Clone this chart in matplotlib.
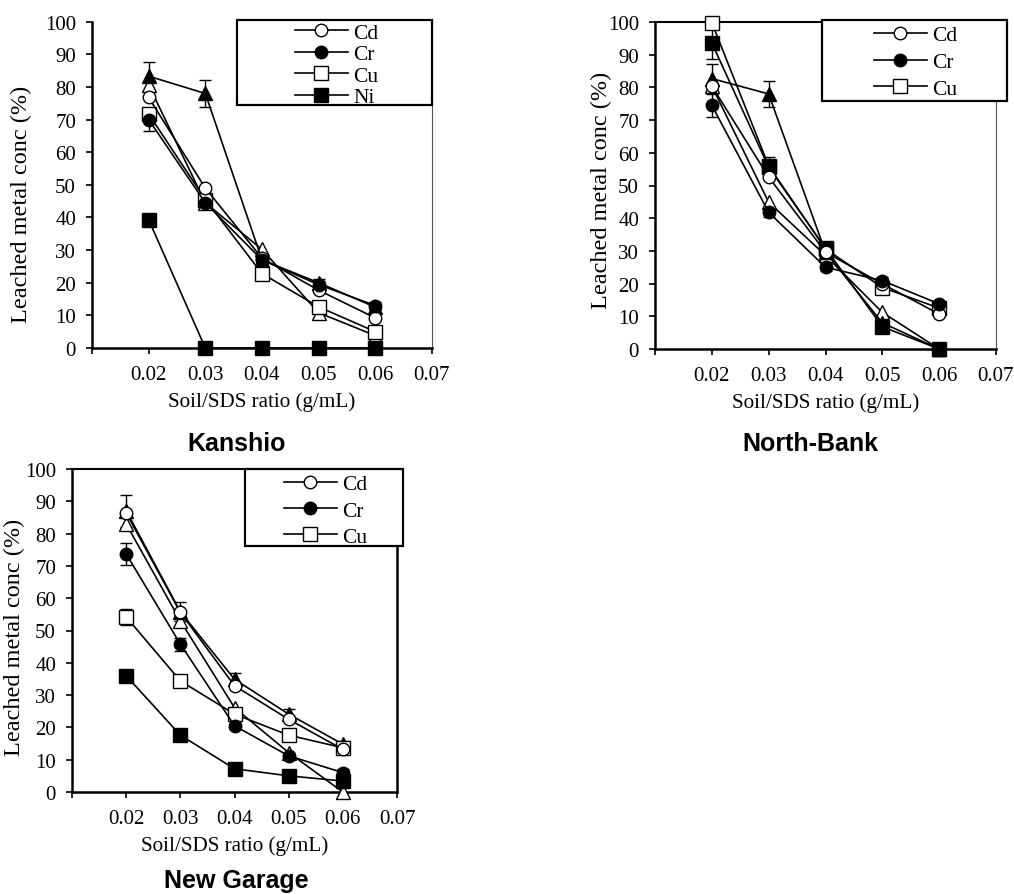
import numpy as np
import matplotlib
matplotlib.use('Agg')
import matplotlib.pyplot as plt
from matplotlib.lines import Line2D
from matplotlib.patches import Rectangle

plt.rcParams['font.family'] = 'Liberation Serif'
plt.rcParams['font.size'] = 15

# x values: soil/SDS ratio (g/mL)
ratio = [0.02, 0.03, 0.04, 0.05, 0.06]

# Kanshio
k_cd = [76.8, 49.0, 27.5, 17.7, 9.2]
k_cr = [70.0, 44.5, 27.0, 19.4, 13.0]
k_cu = [71.7, 45.5, 22.8, 12.6, 5.0]
k_ni = [39.3, 0, 0, 0, 0]
k_to = [80.6, 44.5, 30.2, 10.8, 3.8]
k_tf = [83.3, 78.0, 27.0, 20.0, 12.5]
k_err = {'cr': [3.5, 1.5, 1, 1, 1], 'cu': [2, 1.5, 1, 1, 1], 'tf': [4.3, 4.0, 1, 1, 1]}

# North-Bank
n_cd = [80.4, 52.6, 29.6, 19.9, 10.7]
n_cr = [74.5, 41.8, 25.0, 20.9, 13.8]
n_cu = [99.8, 56.0, 30.6, 18.8, 12.5]
n_ni = [93.6, 55.6, 30.8, 6.8, 0]
n_to = [80.4, 44.9, 28.6, 11.2, 0]
n_tf = [82.7, 78.0, 29.6, 8.0, 0]
n_err = {'cr': [3.5, 1.5, 1, 1, 1], 'ni': [5, 3, 1, 1, 0], 'tf': [4.5, 4.0, 1, 1, 0]}

# New Garage
g_cd = [86.4, 55.6, 32.9, 22.5, 13.2]
g_cr = [73.7, 45.8, 20.5, 11.2, 6.0]
g_cu = [54.2, 34.4, 24.1, 17.6, 13.7]
g_ni = [36.0, 17.6, 7.2, 5.0, 3.4]
g_to = [83.0, 53.0, 26.1, 12.2, 0]
g_tf = [87.1, 55.8, 34.9, 24.1, 14.8]
g_err = {'cr': [3.5, 2, 1, 1, 1], 'cu': [2.5, 1, 1, 1, 1], 'tf': [5, 3, 2, 1.5, 1]}

styles = {
    'cd': dict(marker='o', mfc='white', ms=9),
    'cr': dict(marker='o', mfc='black', ms=9),
    'cu': dict(marker='s', mfc='white', ms=9.5),
    'ni': dict(marker='s', mfc='black', ms=10),
    'to': dict(marker='^', mfc='white', ms=10.5),
    'tf': dict(marker='^', mfc='black', ms=10.5),
}
names = {'cd': 'Cd', 'cr': 'Cr', 'cu': 'Cu', 'ni': 'Ni'}

fig = plt.figure(figsize=(10.14, 8.95), dpi=100)


def panel(rect, series, errs, legend_keys, box, leg_anchor, spacing, ylab_xy,
          top_spine, right_lw, right_col, title, title_x, title_y):
    ax = fig.add_axes(rect)
    for key in ['to', 'tf', 'cu', 'ni', 'cd', 'cr']:
        ax.plot(ratio, series[key], color='black', lw=1.2, mec='black', mew=1.0,
                clip_on=False, zorder=3, **styles[key])
    for key, e in errs.items():
        ax.errorbar(ratio, series[key], yerr=e, fmt='none', ecolor='black',
                    elinewidth=1.0, capsize=4, capthick=1.0, zorder=2, clip_on=False)
    ax.set_xlim(0.01, 0.07)
    ax.set_ylim(0, 100)
    ax.set_xticks([0.01, 0.02, 0.03, 0.04, 0.05, 0.06, 0.07])
    ax.set_xticklabels(['', '0.02', '0.03', '0.04', '0.05', '0.06', '0.07'])
    ax.set_yticks(range(0, 101, 10))
    ax.tick_params(direction='out', length=4.5, width=1.2, labelsize=15)
    ax.tick_params(axis='y', pad=7)
    ax.tick_params(axis='x', pad=8)
    ax.set_xlabel('Soil/SDS ratio (g/mL)', fontsize=15.2, labelpad=5)
    ax.set_ylabel('Leached metal conc (%)', fontsize=17.5)
    ax.yaxis.set_label_coords(*ylab_xy)
    for s in ['left', 'bottom']:
        ax.spines[s].set_linewidth(1.8)
    ax.spines['top'].set_visible(top_spine)
    ax.spines['top'].set_linewidth(1.5)
    ax.spines['right'].set_linewidth(right_lw)
    ax.spines['right'].set_color(right_col)

    # legend box
    ax.add_patch(Rectangle((box[0], box[1]), box[2] - box[0], box[3] - box[1],
                           transform=ax.transAxes, fill=True, facecolor='white',
                           edgecolor='black', lw=1.6, clip_on=False, zorder=5))
    handles = [Line2D([], [], color='black', lw=1.2, mec='black', **styles[k])
               for k in legend_keys]
    leg = ax.legend(handles, [names[k] for k in legend_keys], loc='upper left',
                    bbox_to_anchor=leg_anchor, frameon=False, borderaxespad=0,
                    borderpad=0, handletextpad=0.25, handlelength=2.45,
                    labelspacing=spacing, fontsize=15.5, numpoints=1)
    leg.set_zorder(6)
    fig.text(title_x, title_y, title, family='Liberation Sans', weight='bold',
             fontsize=18, ha='center', va='center')
    return ax


panel([92 / 1014, 1 - 349 / 895, 340 / 1014, 326.3 / 895],
      {'cd': k_cd, 'cr': k_cr, 'cu': k_cu, 'ni': k_ni, 'to': k_to, 'tf': k_tf},
      k_err, ['cd', 'cr', 'cu', 'ni'], (0.426, 0.745, 1.0, 1.005), (0.597, 0.997), 0.065,
      (-0.176, 0.444), False, 0.8, '#555555', 'Kanshio', 237 / 1014, 1 - 444 / 895)

panel([655 / 1014, 1 - 350 / 895, 341 / 1014, 327 / 895],
      {'cd': n_cd, 'cr': n_cr, 'cu': n_cu, 'ni': n_ni, 'to': n_to, 'tf': n_tf},
      n_err, ['cd', 'cr', 'cu'], (0.490, 0.758, 1.032, 1.006), (0.642, 0.990), 0.31,
      (-0.126, 0.489), True, 0.8, '#555555', 'North-Bank', 810 / 1014, 1 - 444 / 895)

panel([72 / 1014, 1 - 793 / 895, 325 / 1014, 323 / 895],
      {'cd': g_cd, 'cr': g_cr, 'cu': g_cu, 'ni': g_ni, 'to': g_to, 'tf': g_tf},
      g_err, ['cd', 'cr', 'cu'], (0.532, 0.762, 1.018, 1.0), (0.652, 0.984), 0.29,
      (-0.145, 0.483), True, 1.8, 'black', 'New Garage', 236 / 1014, 1 - 881 / 895)

plt.savefig('out.png', dpi=100)
